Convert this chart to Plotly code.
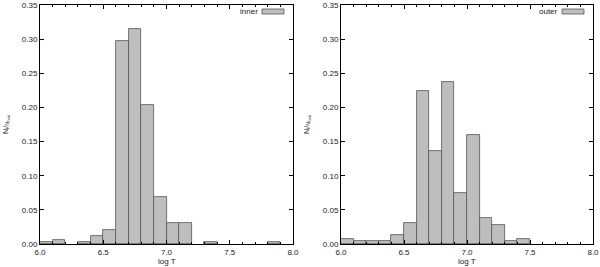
import plotly.graph_objects as go
from plotly.subplots import make_subplots

bin_left = [6.0, 6.1, 6.2, 6.3, 6.4, 6.5, 6.6, 6.7, 6.8, 6.9, 7.0, 7.1, 7.2, 7.3, 7.4, 7.5, 7.6, 7.7, 7.8, 7.9]
inner = [0.003, 0.006, 0.0, 0.003, 0.012, 0.021, 0.297, 0.315, 0.204, 0.069, 0.031, 0.031, 0.0, 0.003, 0.0, 0.0, 0.0, 0.0, 0.003, 0.0]
outer = [0.008, 0.005, 0.005, 0.005, 0.013, 0.031, 0.224, 0.136, 0.237, 0.075, 0.160, 0.038, 0.028, 0.005, 0.008, 0.0, 0.0, 0.0, 0.0, 0.0]
labels = ["inner", "outer"]
x_title = "log T"
y_title = "N<sub>i</sub>/<sub>N<sub>Total</sub></sub>"
bin_width = 0.1

W, H = 600, 267
fig = make_subplots(rows=1, cols=2, horizontal_spacing=0.08)

fill = "#bebebe"
edge = "#555555"
for i, (vals, name) in enumerate([(inner, labels[0]), (outer, labels[1])]):
    xs = [b + bin_width / 2 for b, v in zip(bin_left, vals) if v > 0]
    ys = [v for v in vals if v > 0]
    fig.add_trace(go.Bar(x=xs, y=ys, width=bin_width, marker=dict(color=fill, line=dict(color=edge, width=0.8)),
                         name=name, showlegend=False), row=1, col=i + 1)

font = dict(family="Liberation Sans, Arial, sans-serif", size=8, color="#222222")
xdoms = [[40 / W, 293 / W], [341 / W, 593 / W]]
ydom = [1 - 244 / H, 1 - 5 / H]
for i in range(2):
    xa = "xaxis" if i == 0 else "xaxis2"
    ya = "yaxis" if i == 0 else "yaxis2"
    fig.layout[xa].update(domain=xdoms[i], range=[6.0, 8.0], tickvals=[6.0, 6.5, 7.0, 7.5, 8.0],
                          ticktext=["6.0", "6.5", "7.0", "7.5", "8.0"], ticks="inside", ticklen=4,
                          tickcolor="#000", showline=True, linecolor="#000", linewidth=1, mirror="ticks",
                          showgrid=False, zeroline=False, tickfont=font, automargin=False,
                          minor=dict(dtick=0.1, ticks="inside", ticklen=2, tickcolor="#000", showgrid=False))
    fig.layout[ya].update(domain=ydom, range=[0, 0.35], tickvals=[0, 0.05, 0.1, 0.15, 0.2, 0.25, 0.3, 0.35],
                          ticktext=["0.00", "0.05", "0.10", "0.15", "0.20", "0.25", "0.30", "0.35"],
                          ticks="inside", ticklen=4, tickcolor="#000", showline=True, linecolor="#000",
                          linewidth=1, mirror="ticks", showgrid=False, zeroline=False, tickfont=font,
                          automargin=False,
                          title=dict(text=y_title,
                                     font=dict(family=font["family"], size=7, color="#222"), standoff=12))
    fig.add_annotation(xref="paper", yref="paper", x=(xdoms[i][0] + xdoms[i][1]) / 2, y=1 - 261.5 / H,
                       text=x_title, showarrow=False, xanchor="center", yanchor="middle", font=font)
    xr = xdoms[i][1]
    fig.add_annotation(xref="paper", yref="paper", x=xr - 33 / W, y=1 - 11.5 / H, text=labels[i],
                       showarrow=False, xanchor="right", yanchor="middle", font=font)
    fig.add_shape(type="rect", xref="paper", yref="paper", x0=xr - 31 / W, x1=xr - 9 / W,
                  y0=1 - 14 / H, y1=1 - 9 / H, fillcolor=fill, line=dict(color=edge, width=0.8))

fig.update_layout(width=W, height=H, margin=dict(l=0, r=0, t=0, b=0), plot_bgcolor="white",
                  paper_bgcolor="white", bargap=0, showlegend=False)
fig.write_html("out.html", config={"displayModeBar": False},
               post_script="document.body.style.margin='0';document.body.style.overflow='hidden';")
